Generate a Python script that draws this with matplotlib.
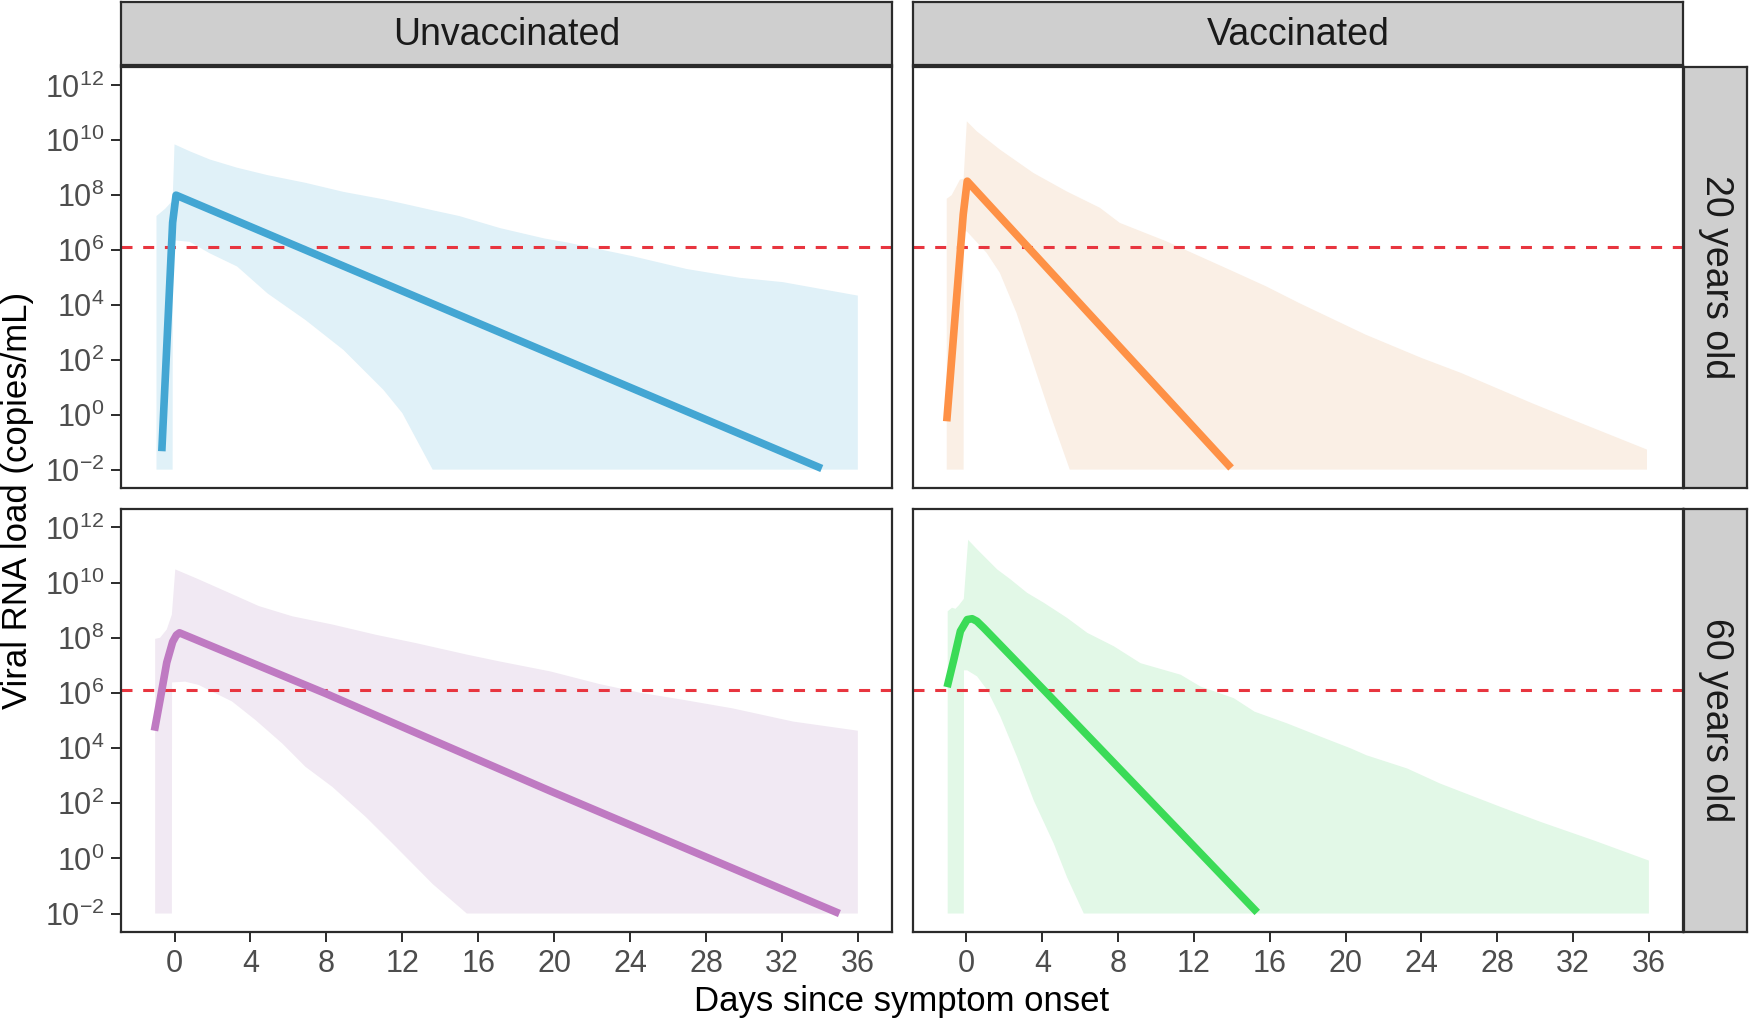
import numpy as np
import matplotlib
matplotlib.use('Agg')
import matplotlib.pyplot as plt
from matplotlib.ticker import FixedLocator, NullLocator, LogFormatterSciNotation

plt.rcParams['font.family'] = ['Liberation Sans', 'DejaVu Sans']
plt.rcParams['mathtext.fontset'] = 'custom'
plt.rcParams['mathtext.rm'] = 'Liberation Sans'
plt.rcParams['mathtext.it'] = 'Liberation Sans:italic'

# all loads below are log10(copies/mL)
threshold_log = 6.1
col_labels = ['Unvaccinated', 'Vaccinated']
row_labels = ['20 years old', '60 years old']
x_ticks = [0, 4, 8, 12, 16, 20, 24, 28, 32, 36]
y_tick_exps = [-2, 0, 2, 4, 6, 8, 10, 12]

# unvaccinated, 20 years old
uv20_line_x = [-0.67, -0.1, 0.08, 17.15, 34.1]
uv20_line_y = [-1.33, 7.0, 8.0, 3.0, -1.96]
uv20_up_x = [-0.95, -0.5, -0.1, 0.0, 0.8, 1.86, 3.3, 4.9, 6.9, 8.9, 11.0, 12.0, 13.6, 15.0,
             17.15, 19.5, 20.66, 24.17, 26.98, 29.78, 32.06, 36.0]
uv20_up_y = [7.24, 7.5, 7.8, 9.85, 9.6, 9.3, 9.0, 8.73, 8.45, 8.12, 7.85, 7.7, 7.45, 7.24,
             6.8, 6.42, 6.28, 5.77, 5.31, 4.99, 4.83, 4.34]
uv20_lo_x = [-0.95, -0.1, -0.09, 0.8, 1.86, 3.3, 4.9, 6.9, 8.9, 11.0, 12.0, 13.6, 36.0]
uv20_lo_y = [-2, -2, 6.36, 6.3, 5.88, 5.4, 4.42, 3.45, 2.36, 0.91, 0.06, -2, -2]

# vaccinated, 20 years old
v20_line_x = [-1.04, -0.17, 0.04, 13.96]
v20_line_y = [-0.24, 7.3, 8.51, -1.94]
v20_up_x = [-1.04, -0.78, -0.34, -0.15, 0.02, 0.54, 1.77, 3.53, 5.28, 7.04, 8.09, 10.54,
            14.05, 15.8, 17.55, 21.05, 24.0, 26.1, 29.8, 32.4, 35.9]
v20_up_y = [7.87, 8.0, 8.57, 8.6, 10.69, 10.33, 9.66, 8.81, 8.14, 7.54, 6.99, 6.32,
            5.23, 4.68, 4.07, 2.92, 2.07, 1.52, 0.43, -0.3, -1.27]
v20_lo_x = [-1.04, -0.15, -0.14, 0.02, 1.06, 1.76, 2.64, 3.69, 4.39, 5.45, 35.9]
v20_lo_y = [-2, -2, 6.68, 6.68, 5.9, 5.17, 3.71, 1.52, 0.07, -2, -2]

# unvaccinated, 60 years old
uv60_line_x = [-1.06, -0.76, -0.41, -0.1, 0.1, 0.26, 7.96, 13.6, 19.77, 35.03]
uv60_line_y = [4.63, 5.75, 7.1, 7.85, 8.1, 8.18, 5.98, 4.29, 2.45, -2.0]
uv60_up_x = [-1.02, -0.76, -0.41, -0.14, 0.04, 1.27, 2.68, 4.44, 6.2, 8.32, 10.6, 12.7,
             15.4, 17.14, 19.8, 22.4, 24.5, 26.8, 29.4, 32.6, 36.0]
uv60_up_y = [7.96, 8.0, 8.3, 8.84, 10.48, 10.12, 9.69, 9.15, 8.78, 8.48, 8.11, 7.81,
             7.39, 7.14, 6.78, 6.32, 6.01, 5.75, 5.44, 4.96, 4.63]
uv60_lo_x = [-1.02, -0.14, -0.13, 0.56, 1.27, 2.15, 3.03, 4.26, 5.67, 6.9, 8.32, 10.08,
             11.5, 13.6, 15.4, 36.0]
uv60_lo_y = [-2, -2, 6.38, 6.41, 6.29, 5.99, 5.69, 5.02, 4.17, 3.32, 2.59, 1.5,
             0.53, -0.93, -2, -2]

# vaccinated, 60 years old
v60_line_x = [-1.02, -0.67, -0.32, 0.04, 0.3, 0.55, 0.91, 4.08, 8.83, 15.34]
v60_line_y = [6.21, 7.2, 8.24, 8.66, 8.69, 8.6, 8.36, 6.11, 2.71, -1.96]
v60_up_x = [-0.99, -0.76, -0.58, -0.41, -0.14, 0.09, 0.56, 1.62, 2.32, 3.2, 4.08, 5.31,
            6.37, 7.78, 9.18, 11.3, 12.35, 14.1, 15.2, 16.9, 18.7, 20.27, 21.1, 23.25,
            25.0, 28.2, 30.3, 33.1, 36.0]
v60_up_y = [8.96, 9.09, 9.05, 9.17, 9.41, 11.55, 11.21, 10.48, 10.12, 9.63, 9.27, 8.72,
            8.18, 7.69, 7.08, 6.66, 6.23, 5.81, 5.32, 4.9, 4.41, 3.99, 3.74, 3.26,
            2.71, 1.86, 1.32, 0.65, -0.08]
v60_lo_x = [-0.99, -0.14, -0.13, 0.04, 0.56, 1.09, 1.79, 2.67, 3.55, 4.61, 5.31, 6.19, 36.0]
v60_lo_y = [-2, -2, 6.82, 6.82, 6.6, 6.11, 5.14, 3.68, 2.1, 0.53, -0.69, -2, -2]

panels = [
    (0, 0, uv20_line_x, uv20_line_y, uv20_up_x, uv20_up_y, uv20_lo_x, uv20_lo_y, '#43A6D3', '#E0F1F8'),
    (0, 1, v20_line_x, v20_line_y, v20_up_x, v20_up_y, v20_lo_x, v20_lo_y, '#FE9146', '#FAEFE5'),
    (1, 0, uv60_line_x, uv60_line_y, uv60_up_x, uv60_up_y, uv60_lo_x, uv60_lo_y, '#BF7AC2', '#F1E9F3'),
    (1, 1, v60_line_x, v60_line_y, v60_up_x, v60_up_y, v60_lo_x, v60_lo_y, '#3BDB57', '#E2F8E7'),
]

W, H = 1750, 1023
def box(x0, y0, x1, y1):
    return [x0 / W, 1 - y1 / H, (x1 - x0) / W, (y1 - y0) / H]

cols = [(121, 892), (913, 1683)]
rows = [(67, 488), (509, 932)]
frame_col = '#2b2b2b'
tick_col = '#4D4D4D'

fig = plt.figure(figsize=(W / 100, H / 100), dpi=100)

for r, c, lx, ly, ux, uy, bx, by, lc, fc in panels:
    ax = fig.add_axes(box(cols[c][0], rows[r][0], cols[c][1], rows[r][1]))
    ax.set_yscale('log')
    poly_x = np.r_[ux, bx[::-1]]
    poly_y = 10.0 ** np.r_[uy, by[::-1]]
    ax.fill(poly_x, poly_y, color=fc, lw=0, zorder=1)
    ax.axhline(10 ** threshold_log, color='#E8353F', lw=2.2, dashes=(3.6, 3.5), zorder=2)
    ax.plot(lx, 10.0 ** np.array(ly), color=lc, lw=5.5, solid_capstyle='butt',
            solid_joinstyle='round', zorder=3)
    ax.set_xlim(-2.82, 37.8)
    ax.set_ylim(10 ** -2.67, 10 ** 12.67)
    ax.xaxis.set_major_locator(FixedLocator(x_ticks))
    ax.yaxis.set_major_locator(FixedLocator([10.0 ** e for e in y_tick_exps]))
    ax.yaxis.set_minor_locator(NullLocator())
    ax.yaxis.set_major_formatter(LogFormatterSciNotation())
    for s in ax.spines.values():
        s.set_color(frame_col)
        s.set_linewidth(1.6)
    ax.tick_params(axis='both', length=7, width=1.4, color=frame_col, labelcolor=tick_col,
                   labelsize=22, pad=5)
    if r == 0:
        ax.tick_params(axis='x', bottom=False, labelbottom=False)
    if c == 1:
        ax.tick_params(axis='y', left=False, labelleft=False)

    if r == 0:
        sax = fig.add_axes(box(cols[c][0], 2, cols[c][1], 65))
        sax.set_facecolor('#CFCFCF')
        sax.set_xticks([])
        sax.set_yticks([])
        for s in sax.spines.values():
            s.set_color(frame_col)
            s.set_linewidth(1.6)
        sax.text(0.5, 0.47, col_labels[c], ha='center', va='center', fontsize=27,
                 color='#1A1A1A', transform=sax.transAxes)
    if c == 1:
        sax = fig.add_axes(box(1684, rows[r][0], 1747, rows[r][1]))
        sax.set_facecolor('#CFCFCF')
        sax.set_xticks([])
        sax.set_yticks([])
        for s in sax.spines.values():
            s.set_color(frame_col)
            s.set_linewidth(1.6)
        sax.text(0.5, 0.5, row_labels[r], ha='center', va='center', fontsize=27,
                 rotation=-90, color='#1A1A1A', transform=sax.transAxes)

fig.text(18 / W, 1 - 500 / H, 'Viral RNA load (copies/mL)', rotation=90, ha='center',
         va='center', fontsize=25, color='black')
fig.text(902 / W, 1 - 1002 / H, 'Days since symptom onset', ha='center', va='center',
         fontsize=25, color='black')

fig.savefig('out.png', dpi=100)
